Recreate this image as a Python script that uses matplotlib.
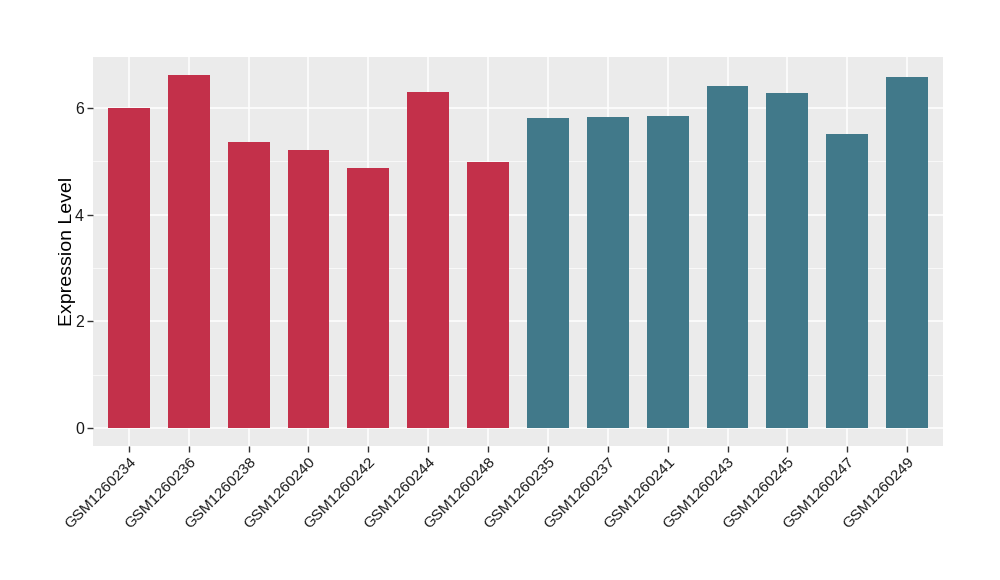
import numpy as np
import matplotlib.pyplot as plt

plt.rcParams['font.family'] = ['Liberation Sans', 'DejaVu Sans']

# Sample names and expression values (two groups)
samples = ['GSM1260234', 'GSM1260236', 'GSM1260238', 'GSM1260240', 'GSM1260242',
           'GSM1260244', 'GSM1260248', 'GSM1260235', 'GSM1260237', 'GSM1260241',
           'GSM1260243', 'GSM1260245', 'GSM1260247', 'GSM1260249']
values = [5.99, 6.62, 5.35, 5.20, 4.87, 6.30, 4.98,
          5.80, 5.82, 5.84, 6.40, 6.28, 5.50, 6.57]
groups = ['A'] * 7 + ['B'] * 7
group_colors = {'A': '#C3304A', 'B': '#41798A'}

fig = plt.figure(figsize=(10, 5.8), dpi=100)
ax = fig.add_axes([0.093, 0.231, 0.85, 0.671])
ax.set_facecolor('#EBEBEB')

x = np.arange(1, len(samples) + 1)
ax.bar(x, values, width=0.7, color=[group_colors[g] for g in groups], zorder=3)

# ggplot-like limits
ymax = max(values)
ax.set_xlim(0.4, len(samples) + 0.6)
ax.set_ylim(-0.05 * ymax, 1.05 * ymax)

ax.set_yticks([0, 2, 4, 6])
ax.set_yticks([1, 3, 5], minor=True)
ax.set_xticks(x)
ax.set_xticklabels(samples, rotation=45, ha='right', va='top',
                   rotation_mode='anchor', fontsize=11, color='#1a1a1a')
ax.tick_params(axis='y', labelsize=11.5, labelcolor='#1a1a1a')
ax.tick_params(axis='both', which='major', length=4, width=1, color='#333333', pad=2.5)
ax.tick_params(axis='y', which='minor', length=0)

ax.grid(True, which='major', color='white', linewidth=1.1, zorder=0)
ax.grid(True, which='minor', axis='y', color='white', linewidth=0.5, zorder=0)
for s in ax.spines.values():
    s.set_visible(False)

ax.set_ylabel('Expression Level', fontsize=14, color='black', labelpad=-1)

fig.savefig('out.png', dpi=100)
